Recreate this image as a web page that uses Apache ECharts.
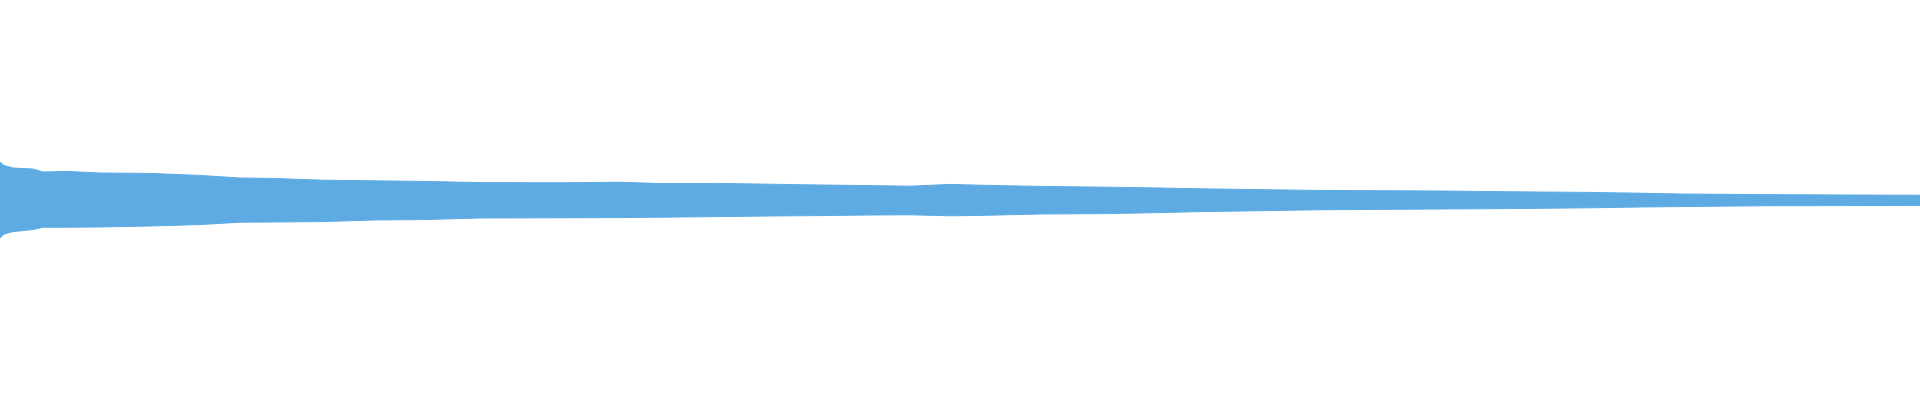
<!DOCTYPE html>
<html>
<head>
<meta charset="utf-8">
<script src="https://cdn.jsdelivr.net/npm/echarts@6/dist/echarts.min.js"></script>
<style>html,body{margin:0;padding:0;background:#fff;}#c{width:1920px;height:400px;}</style>
</head>
<body>
<div id="c"></div>
<script>
// Waveform envelope (time position, upper peak, lower peak)
var envTime  = [0, 4, 13, 33, 43, 67, 100, 150, 200, 240, 273, 323, 373, 423, 480, 560, 620, 660, 720, 770, 820, 870, 910, 950, 980, 1040, 1110, 1160, 1200, 1243, 1317, 1440, 1513, 1590, 1640, 1680, 1760, 1847, 1920];
var envUpper = [0.19, 0.173, 0.16, 0.155, 0.14, 0.143, 0.135, 0.133, 0.123, 0.11, 0.108, 0.099, 0.096, 0.093, 0.087, 0.086, 0.089, 0.082, 0.083, 0.079, 0.075, 0.072, 0.069, 0.078, 0.074, 0.068, 0.064, 0.06, 0.056, 0.053, 0.048, 0.045, 0.041, 0.038, 0.034, 0.03, 0.027, 0.025, 0.024];
var envLower = [-0.19, -0.17, -0.158, -0.148, -0.136, -0.136, -0.135, -0.13, -0.123, -0.111, -0.11, -0.108, -0.1, -0.098, -0.09, -0.089, -0.088, -0.086, -0.083, -0.08, -0.078, -0.075, -0.074, -0.079, -0.077, -0.07, -0.068, -0.063, -0.058, -0.055, -0.049, -0.045, -0.043, -0.039, -0.035, -0.033, -0.029, -0.028, -0.027];

var color = '#5dabe2';
function pairs(vals){ return envTime.map(function(t,i){ return [t, vals[i]]; }); }

var chart = echarts.init(document.getElementById('c'), null, {renderer:'canvas'});
chart.setOption({
  animation: false,
  grid: {left: 0, right: 0, top: 0, bottom: 0},
  xAxis: {type: 'value', min: 0, max: 1920, show: false},
  yAxis: {type: 'value', min: -1, max: 1, show: false},
  series: [
    {type: 'line', data: pairs(envUpper), showSymbol: false, lineStyle: {color: color, width: 1}, areaStyle: {color: color, opacity: 1}, itemStyle: {color: color}},
    {type: 'line', data: pairs(envLower), showSymbol: false, lineStyle: {color: color, width: 1}, areaStyle: {color: color, opacity: 1}, itemStyle: {color: color}},
    {type: 'line', data: [[0, 0], [1920, 0]], showSymbol: false, silent: true, lineStyle: {color: color, width: 2}}
  ]
});
</script>
</body>
</html>
